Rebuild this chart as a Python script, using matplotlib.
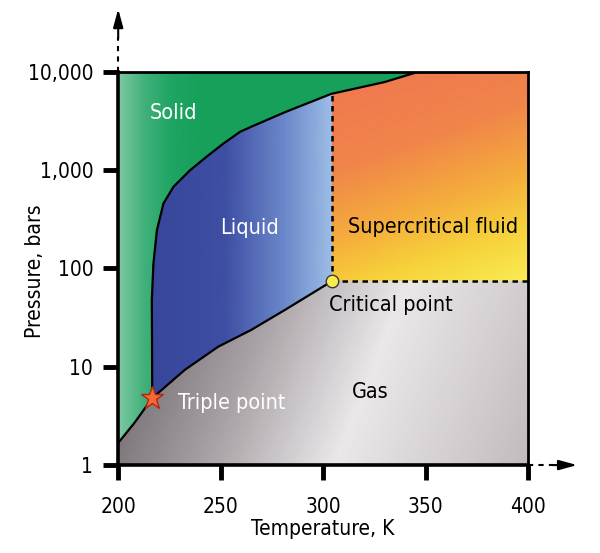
import numpy as np
import matplotlib
matplotlib.use("Agg")
import matplotlib.pyplot as plt
from matplotlib.colors import LinearSegmentedColormap
from matplotlib.patches import Polygon
from matplotlib.ticker import NullLocator

plt.rcParams['font.family'] = ['DejaVu Sans']
plt.rcParams['font.stretch'] = 'condensed'

# CO2 phase boundaries, T in K, P in bar
triple_T, triple_P = 216.6, 4.8
crit_T, crit_P = 304.1, 73.8

subl_T = [200.0, 208.0, 216.6]
subl_P = [1.68, 2.7, 4.8]

melt_T = [216.6, 216.5, 216.4, 217.2, 218.9, 222.1, 227.0, 235.1, 243.3, 251.4,
          259.5, 265.5, 281.5, 303.9, 330.2, 346.3]
melt_P = [4.8, 20, 48, 113, 246, 459, 679, 1000, 1380, 1870,
          2460, 2800, 3900, 5970, 7900, 10000]

vap_T = [216.6, 232.5, 248.8, 264.9, 281.3, 304.1]
vap_P = [4.8, 9.3, 16.0, 23.7, 37.8, 73.8]

melt_at_crit = 5990  # melting curve pressure at T = 304.1 K

x_ticks = [200, 250, 300, 350, 400]
y_ticks = [1, 10, 100, 1000, 10000]
y_tick_labels = ['1', '10', '100', '1,000', '10,000']

fig = plt.figure(figsize=(6.0, 5.53), dpi=100)
ax = fig.add_axes([0.197, 0.159, 0.683, 0.711])
ax.set_yscale('log')
ax.set_xlim(200, 400)
ax.set_ylim(1, 10000)

# --- region polygons ---
solid_poly = ([(200, subl_P[0]), (200, 10000)]
              + list(zip(melt_T[::-1], melt_P[::-1]))
              + list(zip(subl_T[::-1], subl_P[::-1]))[1:])
liquid_poly = ([(t, p) for t, p in zip(melt_T, melt_P) if t < crit_T]
               + [(crit_T, melt_at_crit), (crit_T, crit_P)]
               + list(zip(vap_T[::-1], vap_P[::-1]))[1:])
super_poly = ([(crit_T, crit_P), (400, crit_P), (400, 10000)]
              + [(t, p) for t, p in zip(melt_T[::-1], melt_P[::-1]) if t > crit_T]
              + [(crit_T, melt_at_crit)])
gas_poly = ([(200, 1), (400, 1), (400, crit_P)]
            + list(zip(vap_T[::-1], vap_P[::-1]))
            + list(zip(subl_T[::-1], subl_P[::-1]))[1:])

# gradient grid
T = np.linspace(200, 400, 401)
logP = np.linspace(0, 4, 401)
TT, LL = np.meshgrid(T, logP)


def shade(field, colors, vmin, vmax, poly):
    cmap = LinearSegmentedColormap.from_list('c', colors)
    patch = Polygon(poly, closed=True, transform=ax.transData,
                    facecolor='none', edgecolor='none')
    ax.add_patch(patch)
    m = ax.pcolormesh(T, 10 ** logP, field, cmap=cmap, vmin=vmin, vmax=vmax,
                      shading='gouraud', rasterized=True)
    m.set_clip_path(patch)


shade(np.clip(TT - 200, 0, 40), ['#80caa4', '#40b07a', '#1ea462', '#17a05a'],
      0, 40, solid_poly)
shade((TT - 216) / 88, [(0, '#37469b'), (0.4, '#3d4ea3'), (0.75, '#6d8acb'),
                        (1, '#9dbde6')], 0, 1, liquid_poly)
sc_field = 0.25 * (TT - 304) / 96 + 0.75 * (1 - (LL - 1.87) / 2.13)
shade(sc_field, [(0, '#ee7650'), (0.35, '#f0844a'), (0.6, '#f4ac3c'),
                 (0.8, '#f7d23a'), (1, '#f8ec55')], 0, 1, super_poly)
shade(TT - 19 * LL, [(0, '#7a7377'), (0.25, '#a8a1a5'), (0.55, '#ebe8ea'),
                     (1, '#c2bbbe')], 190, 400, gas_poly)

# --- boundary curves ---
ax.plot(subl_T, subl_P, color='black', lw=1.6)
ax.plot(melt_T, melt_P, color='black', lw=1.6)
ax.plot(vap_T, vap_P, color='black', lw=1.6)
ax.plot([crit_T, crit_T], [crit_P, melt_at_crit], color='black', lw=1.8,
        ls=(0, (2.2, 1.8)))
ax.plot([crit_T, 400], [crit_P, crit_P], color='black', lw=1.8,
        ls=(0, (2.2, 1.8)))

ax.plot(triple_T, triple_P, marker='*', ms=17, mfc='#f26a30', mec='#b52412',
        mew=1.0, zorder=5)
ax.plot(crit_T, crit_P, marker='o', ms=9, mfc='#f6ee4c', mec='#3a3a3a',
        mew=1.0, zorder=5)

# --- labels ---
ax.text(226.8, 3800, 'Solid', color='white', fontsize=15.5, ha='center', va='center')
ax.text(264, 257, 'Liquid', color='white', fontsize=15.5, ha='center', va='center')
ax.text(353.7, 263, 'Supercritical fluid', color='black', fontsize=15.5,
        ha='center', va='center')
ax.text(333, 42.5, 'Critical point', color='black', fontsize=15.5,
        ha='center', va='center')
ax.text(323, 5.5, 'Gas', color='black', fontsize=15.5, ha='center', va='center')
ax.text(229.3, 4.28, 'Triple point', color='white', fontsize=15.5,
        ha='left', va='center')

# --- axes styling ---
for side in ['left', 'bottom']:
    ax.spines[side].set_linewidth(2.6)
for side in ['top', 'right']:
    ax.spines[side].set_linewidth(2.0)
ax.set_xticks(x_ticks)
ax.set_xticklabels([str(v) for v in x_ticks])
ax.set_yticks(y_ticks)
ax.set_yticklabels(y_tick_labels)
ax.yaxis.set_minor_locator(NullLocator())
ax.tick_params(length=11, width=3.5, direction='out', labelsize=15)
ax.tick_params(axis='y', pad=7)
ax.tick_params(axis='x', pad=12)

ax.set_xlabel('Temperature, K', fontsize=15)
ax.set_ylabel('Pressure, bars', fontsize=15)
ax.xaxis.set_label_coords(0.5, -0.138)
ax.yaxis.set_label_coords(-0.178, 0.494)

# dashed axis extensions with arrowheads
ax.plot([0, 0], [1.0, 1.09], transform=ax.transAxes, clip_on=False,
        color='black', lw=1.5, ls=(0, (2.5, 2.5)))
ax.annotate('', xy=(0, 1.16), xytext=(0, 1.085), xycoords='axes fraction',
            arrowprops=dict(arrowstyle='-|>,head_length=1.1,head_width=0.3',
                            color='black', lw=1.5, shrinkA=0, shrinkB=0))
ax.plot([1.0, 1.06], [0, 0], transform=ax.transAxes, clip_on=False,
        color='black', lw=1.5, ls=(0, (2.5, 2.5)))
ax.annotate('', xy=(1.12, 0), xytext=(1.06, 0), xycoords='axes fraction',
            arrowprops=dict(arrowstyle='-|>,head_length=1.1,head_width=0.3',
                            color='black', lw=1.5, shrinkA=0, shrinkB=0))

fig.savefig('out.png', dpi=100)
